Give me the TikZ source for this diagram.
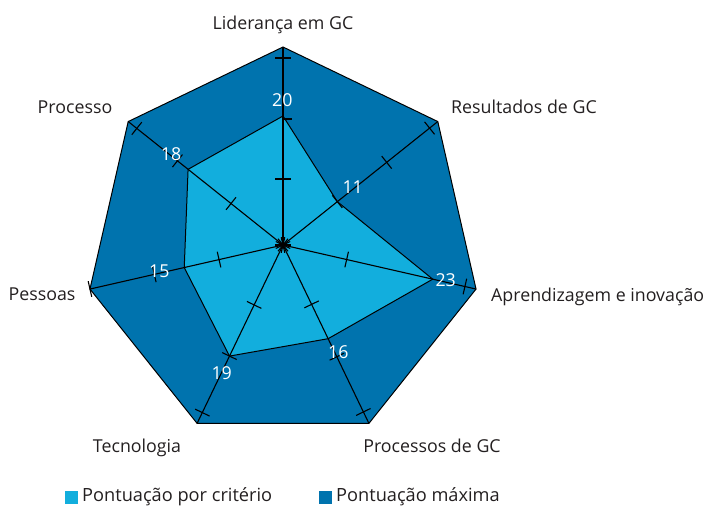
\documentclass[tikz,border=0pt]{standalone}
\usepackage{fontspec}
\setmainfont{Open Sans}
\usetikzlibrary{calc}
\definecolor{maxblue}{RGB}{0,115,174}
\definecolor{critblue}{RGB}{18,174,221}
\definecolor{txt}{RGB}{35,31,32}
\begin{document}
\begin{tikzpicture}[x=1pt,y=1pt,
  axislabel/.style={font=\fontsize{17.8}{20}\selectfont, text=txt, inner sep=0pt, anchor=base},
  valuelabel/.style={font=\fontsize{17.8}{20}\selectfont, text=white, inner sep=0pt, anchor=base},
  legendtext/.style={font=\fontsize{18.2}{20}\selectfont, text=txt, inner sep=0pt, anchor=base west},
  legendbox/.style={minimum size=13pt, inner sep=0pt, draw=none},
  axisline/.style={line width=1.1pt, black},
  tickmark/.style={line width=1.1pt, black},
  outline/.style={line width=1pt, black, line join=miter}
]
\useasboundingbox (0,0) rectangle (711,507);
\coordinate (c) at (283,262);
% outer (maximum) polygon vertices
\foreach \i/\a in {1/90, 2/38.571, 3/-12.857, 4/-64.286, 5/-115.714, 6/-167.143, 7/141.429}
  \coordinate (v\i) at ($(c)+(\a:198)$);
% data points
\foreach \i/\a/\r in {1/90/129, 2/38.571/69.5, 3/-12.857/153.6, 4/-64.286/104, 5/-115.714/123.3, 6/-167.143/101.3, 7/141.429/121.4}
  \coordinate (p\i) at ($(c)+(\a:\r)$);
% polygons
\fill[maxblue] (v1)--(v2)--(v3)--(v4)--(v5)--(v6)--(v7)--cycle;
\draw[outline] (v1)--(v2)--(v3)--(v4)--(v5)--(v6)--(v7)--cycle;
\fill[critblue] (p1)--(p2)--(p3)--(p4)--(p5)--(p6)--(p7)--cycle;
\draw[outline] (p1)--(p2)--(p3)--(p4)--(p5)--(p6)--(p7)--cycle;
% axes
\foreach \i in {1,...,7}
  \draw[axisline] (c) -- (v\i);
% tick marks
\foreach \a/\r in {90/0, 90/66, 90/187,
                   38.571/0, 38.571/69.5, 38.571/132.6, 38.571/187.5,
                   -12.857/0, -12.857/65.3, -12.857/186.6,
                   -64.286/0, -64.286/65.9, -64.286/124, -64.286/185.3,
                   -115.714/0, -115.714/66.5, -115.714/123.3, -115.714/186,
                   -167.143/0, -167.143/65.6, -167.143/132, -167.143/198,
                   141.429/0, 141.429/66.5, 141.429/135, 141.429/187}
  \draw[tickmark] ($(c)+(\a:\r)+(\a+90:8)$) -- ($(c)+(\a:\r)+(\a-90:8)$);
\coordinate (ht) at ($(c)+(90:126)$);
\draw[tickmark] (ht) -- ++(8.5,0);
% axis labels
\node[axislabel] (l1) at (283,477.7) {Liderança em GC};
\node[axislabel] (l2) at (524,393) {Resultados de GC};
\node[axislabel, anchor=base west] (l3) at (491,206) {Aprendizagem e inovação};
\node[axislabel] (l4) at (432,55) {Processos de GC};
\node[axislabel] (l5) at (137,55) {Tecnologia};
\node[axislabel] (l6) at (42,206.3) {Pessoas};
\node[axislabel] (l7) at (75,393) {Processo};
% value labels
\node[valuelabel] (n1) at (282.3,400.5) {20};
\node[valuelabel] (n2) at (352.7,313.8) {11};
\node[valuelabel] (n3) at (445.7,220.5) {23};
\node[valuelabel] (n4) at (338.3,148.8) {16};
\node[valuelabel] (n5) at (221.7,127.2) {19};
\node[valuelabel] (n6) at (159.3,229.8) {15};
\node[valuelabel] (n7) at (171,346.2) {18};
% legend
\node[legendbox, fill=critblue] (k1) at (71.5,10) {};
\node[legendtext] (t1) at (82,5.3) {Pontuação por critério};
\node[legendbox, fill=maxblue] (k2) at (325.5,10) {};
\node[legendtext] (t2) at (336,5.3) {Pontuação máxima};
\end{tikzpicture}
\end{document}
